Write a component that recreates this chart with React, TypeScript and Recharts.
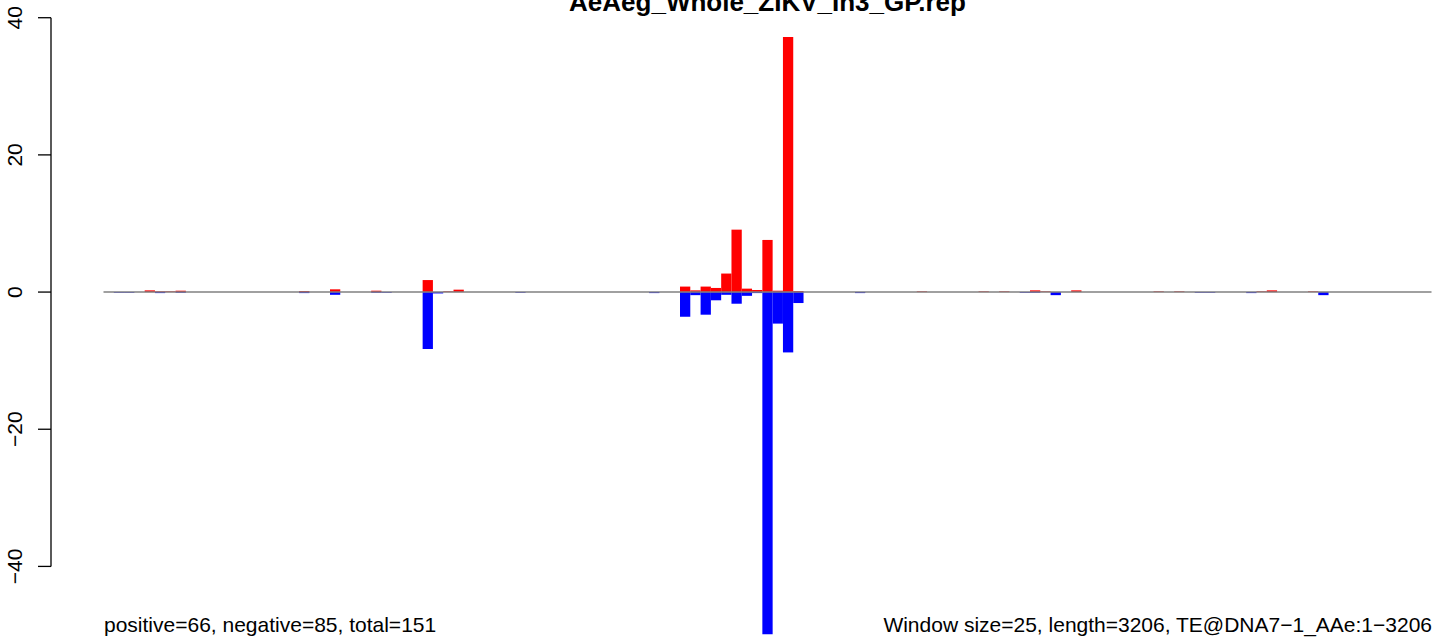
import { BarChart, Bar, XAxis, YAxis, ReferenceLine } from "recharts";

// 3206 bp split into 25 bp windows -> 129 bins
const N_BINS = 129;

const RED_BINS = [4, 5, 6, 7, 19, 22, 26, 31, 33, 34, 56, 57, 58, 59, 60, 61, 62, 63, 64, 65, 66, 67, 79, 85, 87, 90, 91, 94, 102, 104, 112, 113, 117];
const RED_VALUES = [0.25, 0.1, 0.1, 0.2, 0.15, 0.4, 0.2, 1.75, 0.1, 0.35, 0.8, 0.25, 0.8, 0.6, 2.7, 9.1, 0.5, 0.3, 7.6, 0.2, 37.2, 0.15, 0.1, 0.1, 0.1, 0.25, 0.1, 0.25, 0.1, 0.1, 0.1, 0.25, 0.1];

const BLUE_BINS = [1, 2, 5, 7, 19, 22, 26, 27, 31, 32, 40, 53, 56, 57, 58, 59, 60, 61, 62, 63, 64, 65, 66, 67, 73, 89, 90, 92, 106, 107, 111, 118];
const BLUE_VALUES = [-0.1, -0.1, -0.15, -0.1, -0.15, -0.4, -0.1, -0.1, -8.3, -0.2, -0.1, -0.15, -3.6, -0.45, -3.3, -1.2, -0.4, -1.7, -0.55, -0.15, -49.9, -4.6, -8.8, -1.6, -0.15, -0.1, -0.1, -0.45, -0.1, -0.1, -0.15, -0.45];

const Y_TICKS = [-40, -20, 0, 20, 40];
const Y_DOMAIN: [number, number] = [-50, 42];

const TITLE = "AeAeg_Whole_ZIKV_In3_GP.rep";
const FOOT_LEFT = "positive=66, negative=85, total=151";
const FOOT_RIGHT = "Window size=25, length=3206, TE@DNA7\u22121_AAe:1\u22123206";

const W = 1433;
const H = 639;
const MARGIN = { top: 4, right: 1.5, bottom: 4, left: 0 };
const Y_AXIS_W = 103.5;
const PLOT_W = W - MARGIN.left - MARGIN.right - Y_AXIS_W;
const PLOT_H = H - MARGIN.top - MARGIN.bottom;
const PX_PER_UNIT = PLOT_H / (Y_DOMAIN[1] - Y_DOMAIN[0]);
const AXIS_X = 51;
const LABEL_X = 22;
const FONT = "'Liberation Sans', Arial, Helvetica, sans-serif";

const data = Array.from({ length: N_BINS }, (_, i) => ({ bin: i, pos: 0, neg: 0 }));
RED_BINS.forEach((b, i) => {
  data[b].pos = RED_VALUES[i];
});
BLUE_BINS.forEach((b, i) => {
  data[b].neg = BLUE_VALUES[i];
});

function fmt(v: number) {
  return v < 0 ? `\u2212${Math.abs(v)}` : String(v);
}

// R style axis: line only spans first..last tick, labels parallel to axis
function YTick(props: any) {
  const { y, payload } = props;
  const v = payload.value as number;
  const top = Y_TICKS[Y_TICKS.length - 1];
  return (
    <g>
      <line x1={AXIS_X - 13} x2={AXIS_X} y1={y} y2={y} stroke="#000" strokeWidth={1.3} />
      {v === top && (
        <line
          x1={AXIS_X}
          x2={AXIS_X}
          y1={y}
          y2={y + (top - Y_TICKS[0]) * PX_PER_UNIT}
          stroke="#000"
          strokeWidth={1.3}
        />
      )}
      <text
        transform={`translate(${LABEL_X},${y}) rotate(-90)`}
        textAnchor="middle"
        fontSize={21}
        fontFamily={FONT}
        fill="#000"
      >
        {fmt(v)}
      </text>
    </g>
  );
}

export default function App() {
  const barSize = PLOT_W / N_BINS - 0.001;
  return (
    <div style={{ position: "absolute", left: 0, top: 0, width: W, height: H, background: "#fff" }}>
      <BarChart
        width={W}
        height={H}
        data={data}
        margin={MARGIN}
        stackOffset="sign"
        barCategoryGap={0}
        barGap={0}
      >
        <XAxis dataKey="bin" hide />
        <YAxis
          domain={Y_DOMAIN}
          ticks={Y_TICKS}
          interval={0}
          width={Y_AXIS_W}
          axisLine={false}
          tickLine={false}
          tickSize={0}
          tick={<YTick />}
        />
        <Bar dataKey="pos" stackId="s" fill="#FF0000" barSize={barSize} isAnimationActive={false} />
        <Bar dataKey="neg" stackId="s" fill="#0000FF" barSize={barSize} isAnimationActive={false} />
        <ReferenceLine y={0} stroke="#808080" strokeWidth={1.5} />
      </BarChart>
      <svg
        width={W}
        height={H}
        style={{ position: "absolute", left: 0, top: 0, pointerEvents: "none" }}
      >
        <text x={MARGIN.left + Y_AXIS_W + PLOT_W / 2} y={11} textAnchor="middle" fontSize={26} fontWeight="bold" fontFamily={FONT}>
          {TITLE}
        </text>
        <text x={104} y={632} fontSize={21} fontFamily={FONT}>
          {FOOT_LEFT}
        </text>
        <text x={1432} y={632} textAnchor="end" fontSize={21} fontFamily={FONT}>
          {FOOT_RIGHT}
        </text>
      </svg>
    </div>
  );
}
